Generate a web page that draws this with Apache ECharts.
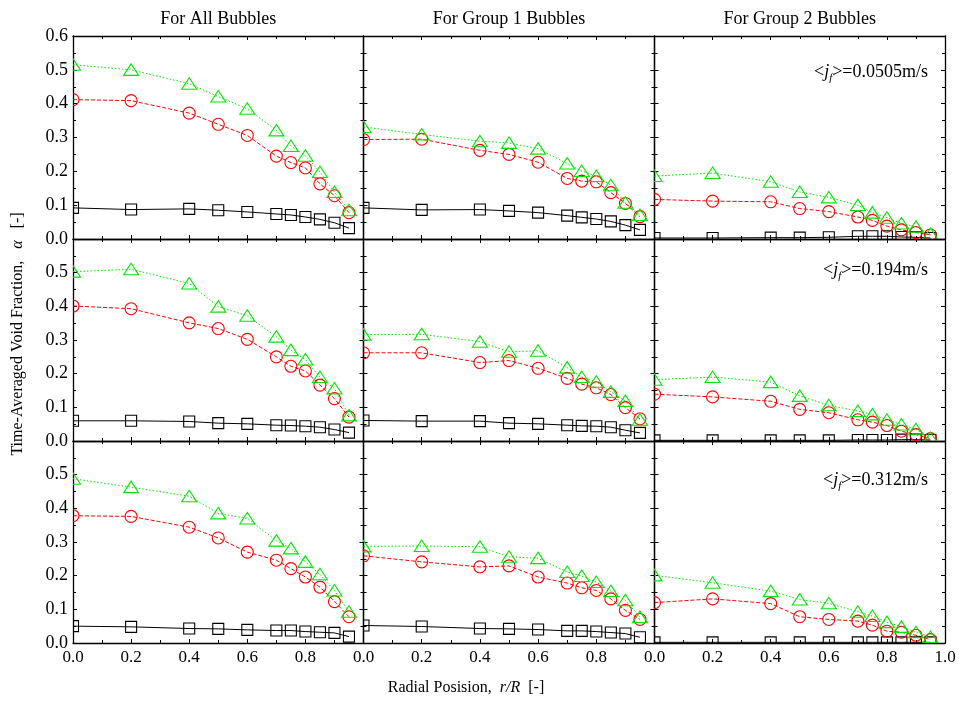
<!DOCTYPE html>
<html>
<head>
<meta charset="utf-8">
<script src="https://cdn.jsdelivr.net/npm/echarts@6/dist/echarts.min.js"></script>
<style>
html,body{margin:0;padding:0;background:#fff;}
#chart{width:959px;height:701px;}
</style>
</head>
<body>
<div id="chart"></div>
<script>
// ---------- DATA ----------
const rPos = [0, 0.2, 0.4, 0.5, 0.6, 0.7, 0.75, 0.8, 0.85, 0.9, 0.95];
const colTitles = ['For All Bubbles', 'For Group 1 Bubbles', 'For Group 2 Bubbles'];
const jfValues = ['0.0505', '0.194', '0.312'];
const xTickLabels = ['0.0', '0.2', '0.4', '0.6', '0.8', '1.0'];
const yTickLabels = ['0.0', '0.1', '0.2', '0.3', '0.4', '0.5', '0.6'];

// jf = 0.0505 m/s
const j1_all_tri = [0.515, 0.500, 0.459, 0.421, 0.385, 0.321, 0.275, 0.246, 0.198, 0.139, 0.085];
const j1_all_cir = [0.412, 0.409, 0.372, 0.339, 0.306, 0.245, 0.226, 0.210, 0.163, 0.128, 0.078];
const j1_all_sq  = [0.092, 0.087, 0.089, 0.085, 0.080, 0.074, 0.071, 0.065, 0.058, 0.048, 0.032];
const j1_g1_tri  = [0.331, 0.309, 0.289, 0.284, 0.267, 0.223, 0.201, 0.186, 0.159, 0.107, 0.071];
const j1_g1_cir  = [0.294, 0.295, 0.262, 0.250, 0.227, 0.179, 0.171, 0.169, 0.137, 0.105, 0.066];
const j1_g1_sq   = [0.092, 0.086, 0.087, 0.083, 0.078, 0.069, 0.064, 0.059, 0.052, 0.041, 0.027];
const j1_g2_tri  = [0.186, 0.195, 0.169, 0.139, 0.123, 0.100, 0.078, 0.063, 0.046, 0.036, 0.015];
const j1_g2_cir  = [0.117, 0.112, 0.110, 0.090, 0.081, 0.065, 0.055, 0.038, 0.027, 0.019, 0.012];
const j1_g2_sq   = [0.003, 0.003, 0.004, 0.004, 0.005, 0.008, 0.008, 0.008, 0.006, 0.005, 0.003];

// jf = 0.194 m/s
const j2_all_tri = [0.503, 0.510, 0.468, 0.399, 0.372, 0.310, 0.270, 0.242, 0.190, 0.156, 0.076];
const j2_all_cir = [0.401, 0.393, 0.351, 0.334, 0.302, 0.250, 0.222, 0.208, 0.166, 0.126, 0.071];
const j2_all_sq  = [0.060, 0.060, 0.058, 0.053, 0.051, 0.047, 0.046, 0.044, 0.041, 0.034, 0.025];
const j2_g1_tri  = [0.316, 0.317, 0.295, 0.265, 0.268, 0.218, 0.190, 0.176, 0.146, 0.119, 0.063];
const j2_g1_cir  = [0.262, 0.262, 0.233, 0.239, 0.216, 0.186, 0.169, 0.158, 0.138, 0.099, 0.066];
const j2_g1_sq   = [0.061, 0.059, 0.059, 0.053, 0.051, 0.047, 0.045, 0.044, 0.041, 0.032, 0.024];
const j2_g2_tri  = [0.182, 0.190, 0.175, 0.134, 0.106, 0.089, 0.079, 0.063, 0.049, 0.035, 0.009];
const j2_g2_cir  = [0.139, 0.131, 0.118, 0.094, 0.084, 0.063, 0.056, 0.046, 0.029, 0.019, 0.007];
const j2_g2_sq   = [0.002, 0.002, 0.002, 0.002, 0.002, 0.003, 0.003, 0.003, 0.004, 0.004, 0.003];

// jf = 0.312 m/s
const j3_all_tri = [0.488, 0.463, 0.436, 0.385, 0.370, 0.304, 0.281, 0.241, 0.204, 0.156, 0.093];
const j3_all_cir = [0.378, 0.376, 0.344, 0.312, 0.270, 0.246, 0.221, 0.196, 0.166, 0.123, 0.078];
const j3_all_sq  = [0.050, 0.048, 0.043, 0.042, 0.039, 0.037, 0.037, 0.034, 0.032, 0.030, 0.019];
const j3_g1_tri  = [0.287, 0.288, 0.286, 0.256, 0.252, 0.211, 0.199, 0.181, 0.154, 0.127, 0.077];
const j3_g1_cir  = [0.259, 0.241, 0.226, 0.229, 0.196, 0.178, 0.164, 0.156, 0.131, 0.097, 0.070];
const j3_g1_sq   = [0.052, 0.049, 0.043, 0.042, 0.040, 0.036, 0.036, 0.034, 0.031, 0.028, 0.017];
const j3_g2_tri  = [0.201, 0.179, 0.154, 0.129, 0.118, 0.093, 0.080, 0.062, 0.048, 0.032, 0.018];
const j3_g2_cir  = [0.120, 0.131, 0.117, 0.078, 0.070, 0.065, 0.053, 0.035, 0.032, 0.023, 0.010];
const j3_g2_sq   = [0.002, 0.002, 0.002, 0.002, 0.002, 0.002, 0.002, 0.002, 0.002, 0.002, 0.002];

const panels = [
  [[j1_all_sq, j1_all_cir, j1_all_tri], [j1_g1_sq, j1_g1_cir, j1_g1_tri], [j1_g2_sq, j1_g2_cir, j1_g2_tri]],
  [[j2_all_sq, j2_all_cir, j2_all_tri], [j2_g1_sq, j2_g1_cir, j2_g1_tri], [j2_g2_sq, j2_g2_cir, j2_g2_tri]],
  [[j3_all_sq, j3_all_cir, j3_all_tri], [j3_g1_sq, j3_g1_cir, j3_g1_tri], [j3_g2_sq, j3_g2_cir, j3_g2_tri]]
];

// ---------- LAYOUT / STYLE ----------
const FONT = 'Liberation Serif, Times New Roman, serif';
const colLeft = [73, 363.5, 654.5];
const colWidth = [290.5, 291, 290.5];
const rowTop = [36, 239, 441];
const rowHeight = [203, 202, 202];
const styles = [
  { color: '#000000', dash: 'solid', marker: 'square' },
  { color: '#ff0000', dash: [4, 2], marker: 'circle' },
  { color: '#00e600', dash: [1.5, 2], marker: 'triangle' }
];

const chart = echarts.init(document.getElementById('chart'), null, { renderer: 'canvas' });

const grid = [], xAxis = [], yAxis = [], series = [];
const axisLineStyle = { color: '#000', width: 1.3 };

for (let r = 0; r < 3; r++) {
  for (let c = 0; c < 3; c++) {
    const g = r * 3 + c;
    grid.push({ left: colLeft[c], top: rowTop[r], width: colWidth[c], height: rowHeight[r], containLabel: false });
    const xCommon = {
      type: 'value', gridIndex: g, min: 0, max: 1, interval: 0.2,
      axisLine: { show: true, onZero: false, lineStyle: axisLineStyle },
      axisTick: { show: true, inside: true, length: 4, lineStyle: { color: '#000' } },
      minorTick: { show: true, splitNumber: 2, length: 3, lineStyle: { color: '#000' } },
      splitLine: { show: false }
    };
    xAxis.push(Object.assign({}, xCommon, {
      position: 'bottom',
      axisLabel: {
        show: r === 2, margin: 6, color: '#000', fontFamily: FONT, fontSize: 17,
        showMaxLabel: c === 2, showMinLabel: true,
        formatter: v => xTickLabels[Math.round(v / 0.2)]
      }
    }));
    xAxis.push(Object.assign({}, xCommon, { position: 'top', axisLabel: { show: false } }));
    const yCommon = {
      type: 'value', gridIndex: g, min: 0, max: 0.6, interval: 0.1,
      axisLine: { show: true, onZero: false, lineStyle: axisLineStyle },
      axisTick: { show: true, inside: true, length: 4, lineStyle: { color: '#000' } },
      minorTick: { show: true, splitNumber: 2, length: 3, lineStyle: { color: '#000' } },
      splitLine: { show: false }
    };
    yAxis.push(Object.assign({}, yCommon, {
      position: 'left',
      axisLabel: {
        show: c === 0, margin: 5, color: '#000', fontFamily: FONT, fontSize: 18,
        showMaxLabel: r === 0, showMinLabel: true,
        formatter: v => yTickLabels[Math.round(v / 0.1)]
      }
    }));
    yAxis.push(Object.assign({}, yCommon, { position: 'right', axisLabel: { show: false } }));

    panels[r][c].forEach((vals, k) => {
      const st = styles[k];
      const data = rPos.map((x, i) => [x, vals[i]]);
      series.push({
        type: 'line', xAxisIndex: 2 * g, yAxisIndex: 2 * g, data: data,
        showSymbol: false, symbol: 'none', clip: true, silent: true,
        lineStyle: { color: st.color, width: 1, type: st.dash },
        z: 2
      });
      series.push({
        type: 'custom', xAxisIndex: 2 * g, yAxisIndex: 2 * g, data: data, clip: true, silent: true,
        z: 3,
        renderItem: (params, api) => {
          const p = api.coord([api.value(0), api.value(1)]);
          const style = { fill: 'transparent', stroke: st.color, lineWidth: 1.1 };
          if (st.marker === 'square') {
            return { type: 'rect', shape: { x: p[0] - 5.5, y: p[1] - 5.5, width: 11, height: 11 }, style };
          } else if (st.marker === 'circle') {
            return { type: 'circle', shape: { cx: p[0], cy: p[1], r: 6 }, style };
          }
          return { type: 'polygon', shape: { points: [[p[0], p[1] - 6], [p[0] + 7.5, p[1] + 5.5], [p[0] - 7.5, p[1] + 5.5]] }, style };
        }
      });
    });
  }
}

const graphic = [];
colTitles.forEach((t, c) => {
  graphic.push({
    type: 'text', x: colLeft[c] + colWidth[c] / 2, y: 19,
    style: { text: t, fontFamily: FONT, fontSize: 18, fill: '#000', align: 'center', verticalAlign: 'middle' }
  });
});
const annY = [72, 270, 480];
jfValues.forEach((v, r) => {
  graphic.push({
    type: 'text', x: 928, y: annY[r],
    style: {
      text: '<{j|j}{f|f}>=' + v + 'm/s',
      fontFamily: FONT, fontSize: 18, fill: '#000', align: 'right', verticalAlign: 'middle',
      rich: {
        j: { fontFamily: FONT, fontSize: 18, fontStyle: 'italic', fill: '#000' },
        f: { fontFamily: FONT, fontSize: 11, fontStyle: 'italic', fill: '#000', padding: [12, 0, 0, 0] }
      }
    }
  });
});
graphic.push({
  type: 'text', x: 18, y: 334, rotation: Math.PI / 2,
  style: {
    text: 'Time-Averaged Void Fraction,   {i|α}   [-]',
    fontFamily: FONT, fontSize: 16, fill: '#000', align: 'center', verticalAlign: 'middle',
    rich: { i: { fontFamily: FONT, fontSize: 16, fontStyle: 'italic', fill: '#000' } }
  }
});
graphic.push({
  type: 'text', x: 466, y: 688,
  style: {
    text: 'Radial Posision,  {i|r/R}  [-]',
    fontFamily: FONT, fontSize: 16, fill: '#000', align: 'center', verticalAlign: 'middle',
    rich: { i: { fontFamily: FONT, fontSize: 16, fontStyle: 'italic', fill: '#000' } }
  }
});

chart.setOption({
  animation: false,
  backgroundColor: '#fff',
  grid, xAxis, yAxis, series, graphic
});
</script>
</body>
</html>
